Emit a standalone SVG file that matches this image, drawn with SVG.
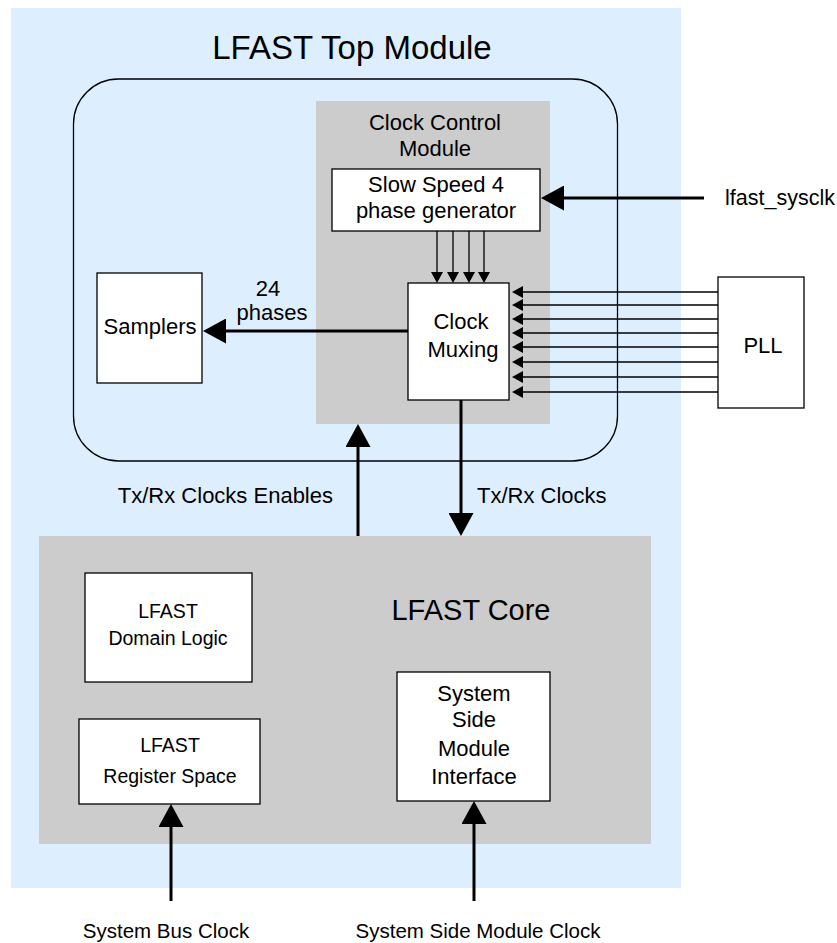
<svg xmlns="http://www.w3.org/2000/svg" width="837" height="943" viewBox="0 0 837 943">
<defs>
<style>
text{font-family:"Liberation Sans",Arial,Helvetica,sans-serif;fill:#000;text-anchor:middle}
.box{fill:#fff;stroke:#000;stroke-width:1.3}
.gray{fill:#cccccc}
.thin{stroke:#000;stroke-width:1.3;fill:none}
.thick{stroke:#000;stroke-width:3;fill:none}
.lbl{font-size:22px}
.sm{font-size:19.5px}
.bot{font-size:20.5px}
</style>
<marker id="big" markerWidth="23" markerHeight="25" refX="19" refY="12.5" orient="auto" markerUnits="userSpaceOnUse" viewBox="0 0 23 25"><path d="M0,0 L23,12.5 L0,25 Z" fill="#000"/></marker>
<marker id="small" markerWidth="11" markerHeight="12" refX="9" refY="6" orient="auto" markerUnits="userSpaceOnUse" viewBox="0 0 11 12"><path d="M0,0 L11,6 L0,12 Z" fill="#000"/></marker>
</defs>
<rect x="0" y="0" width="837" height="943" fill="#fff"/>
<g id="top-module">
<rect x="11" y="8" width="670" height="880" fill="#ddeffe"/>
<text x="352" y="59" style="font-size:33px">LFAST Top Module</text>
<rect x="73.5" y="79" width="544" height="382" rx="45" ry="45" class="thin"/>
</g>
<g id="clock-control">
<rect x="316" y="101" width="234" height="323" class="gray"/>
<text x="435" y="130" class="lbl">Clock Control</text>
<text x="435" y="156" class="lbl">Module</text>
</g>
<g id="slow-speed">
<rect x="332" y="169" width="208" height="62" class="box"/>
<text x="436" y="192" class="lbl">Slow Speed 4</text>
<text x="436" y="218" class="lbl">phase generator</text>
</g>
<g id="clock-muxing">
<rect x="408" y="283" width="101" height="117" class="box"/>
<text x="461" y="329" class="lbl">Clock</text>
<text x="463" y="357" class="lbl">Muxing</text>
</g>
<g id="samplers">
<rect x="97" y="273" width="105" height="110" class="box"/>
<text x="150" y="334" class="lbl">Samplers</text>
</g>
<g id="pll">
<rect x="718" y="277" width="86" height="131" class="box"/>
<text x="763" y="353" class="lbl">PLL</text>
</g>
<g id="lfast-core">
<rect x="39" y="536" width="612" height="308" class="gray"/>
<text x="471" y="620" style="font-size:29px">LFAST Core</text>
</g>
<g id="domain-logic">
<rect x="85" y="573" width="167" height="109" class="box"/>
<text x="168" y="618" class="sm">LFAST</text>
<text x="168" y="645" class="sm">Domain Logic</text>
</g>
<g id="register-space">
<rect x="79" y="719" width="181" height="85" class="box"/>
<text x="170" y="752" class="sm">LFAST</text>
<text x="170" y="783" class="sm">Register Space</text>
</g>
<g id="system-side">
<rect x="397" y="672" width="153" height="129" class="box"/>
<text x="474" y="701" class="lbl">System</text>
<text x="474" y="727" class="lbl">Side</text>
<text x="474" y="756" class="lbl">Module</text>
<text x="474" y="784" class="lbl">Interface</text>
</g>
<g id="connectors">
<line x1="408" y1="331" x2="207" y2="331" class="thick" marker-end="url(#big)"/>
<text x="268" y="296" class="lbl">24</text>
<text x="272" y="320" class="lbl">phases</text>
<line x1="704" y1="198" x2="545" y2="198" class="thick" marker-end="url(#big)"/>
<text x="725" y="205" style="font-size:21.5px;text-anchor:start">lfast_sysclk</text>
<line x1="437" y1="231" x2="437" y2="281" class="thin" marker-end="url(#small)"/>
<line x1="453" y1="231" x2="453" y2="281" class="thin" marker-end="url(#small)"/>
<line x1="469" y1="231" x2="469" y2="281" class="thin" marker-end="url(#small)"/>
<line x1="484" y1="231" x2="484" y2="281" class="thin" marker-end="url(#small)"/>
<line x1="718" y1="292" x2="514" y2="292" class="thin" marker-end="url(#small)"/>
<line x1="718" y1="305" x2="514" y2="305" class="thin" marker-end="url(#small)"/>
<line x1="718" y1="319" x2="514" y2="319" class="thin" marker-end="url(#small)"/>
<line x1="718" y1="333" x2="514" y2="333" class="thin" marker-end="url(#small)"/>
<line x1="718" y1="347" x2="514" y2="347" class="thin" marker-end="url(#small)"/>
<line x1="718" y1="362" x2="514" y2="362" class="thin" marker-end="url(#small)"/>
<line x1="718" y1="377" x2="514" y2="377" class="thin" marker-end="url(#small)"/>
<line x1="718" y1="392" x2="514" y2="392" class="thin" marker-end="url(#small)"/>
<line x1="358" y1="536" x2="358" y2="428" class="thick" marker-end="url(#big)"/>
<text x="333" y="503" class="lbl" style="text-anchor:end">Tx/Rx Clocks Enables</text>
<line x1="461" y1="400" x2="461" y2="532" class="thick" marker-end="url(#big)"/>
<text x="477" y="503" class="lbl" style="text-anchor:start">Tx/Rx Clocks</text>
<line x1="171" y1="901" x2="171" y2="808" class="thick" marker-end="url(#big)"/>
<line x1="474" y1="901" x2="474" y2="805" class="thick" marker-end="url(#big)"/>
<text x="166" y="938" class="bot">System Bus Clock</text>
<text x="478" y="938" class="bot">System Side Module Clock</text>
</g>
</svg>
